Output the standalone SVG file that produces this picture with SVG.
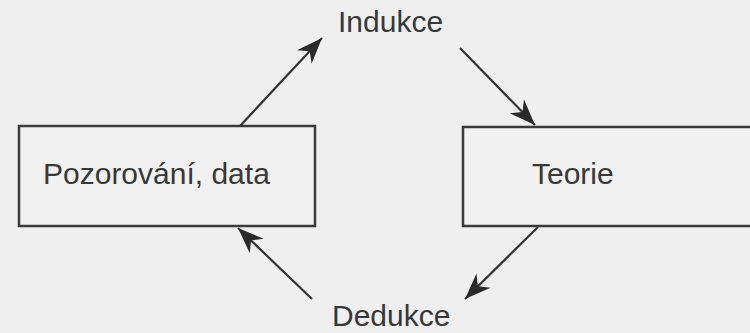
<svg xmlns="http://www.w3.org/2000/svg" width="750" height="333" viewBox="0 0 750 333">
  <style>
    .box { fill: #f1f1f1; stroke: #3a3a3a; stroke-width: 2.5; }
    .lbl { font-family: "Liberation Sans", Arial, sans-serif; font-size: 30px; fill: #383838; }
    .edge { stroke: #333; stroke-width: 2.2; fill: none; marker-end: url(#head); }
  </style>
  <defs>
    <!-- barbed arrowhead, drawn in user units so it keeps one size -->
    <marker id="head" markerUnits="userSpaceOnUse" markerWidth="30" markerHeight="24" viewBox="-28 -12 30 24" refX="0" refY="0" orient="auto">
      <path d="M0,0 L-26,-10 L-18,0 L-26,10 Z" fill="#2a2a2a"/>
    </marker>
  </defs>
  <rect width="750" height="333" fill="#efefef"/>

  <g id="node-observation">
    <rect class="box" x="19" y="126" width="296" height="100"/>
    <text class="lbl" x="43" y="184">Pozorování, data</text>
  </g>

  <g id="node-theory">
    <rect class="box" x="463" y="127" width="300" height="99"/>
    <text class="lbl" x="532" y="184">Teorie</text>
  </g>

  <g id="label-induction">
    <text class="lbl" x="338" y="32">Indukce</text>
  </g>

  <g id="label-deduction">
    <text class="lbl" x="332" y="326">Dedukce</text>
  </g>

  <g id="connectors">
    <line class="edge" x1="240" y1="126" x2="322" y2="38"/>
    <line class="edge" x1="460" y1="48" x2="535" y2="125"/>
    <line class="edge" x1="538" y1="227" x2="465" y2="299"/>
    <line class="edge" x1="312" y1="299" x2="238" y2="228"/>
  </g>
</svg>
